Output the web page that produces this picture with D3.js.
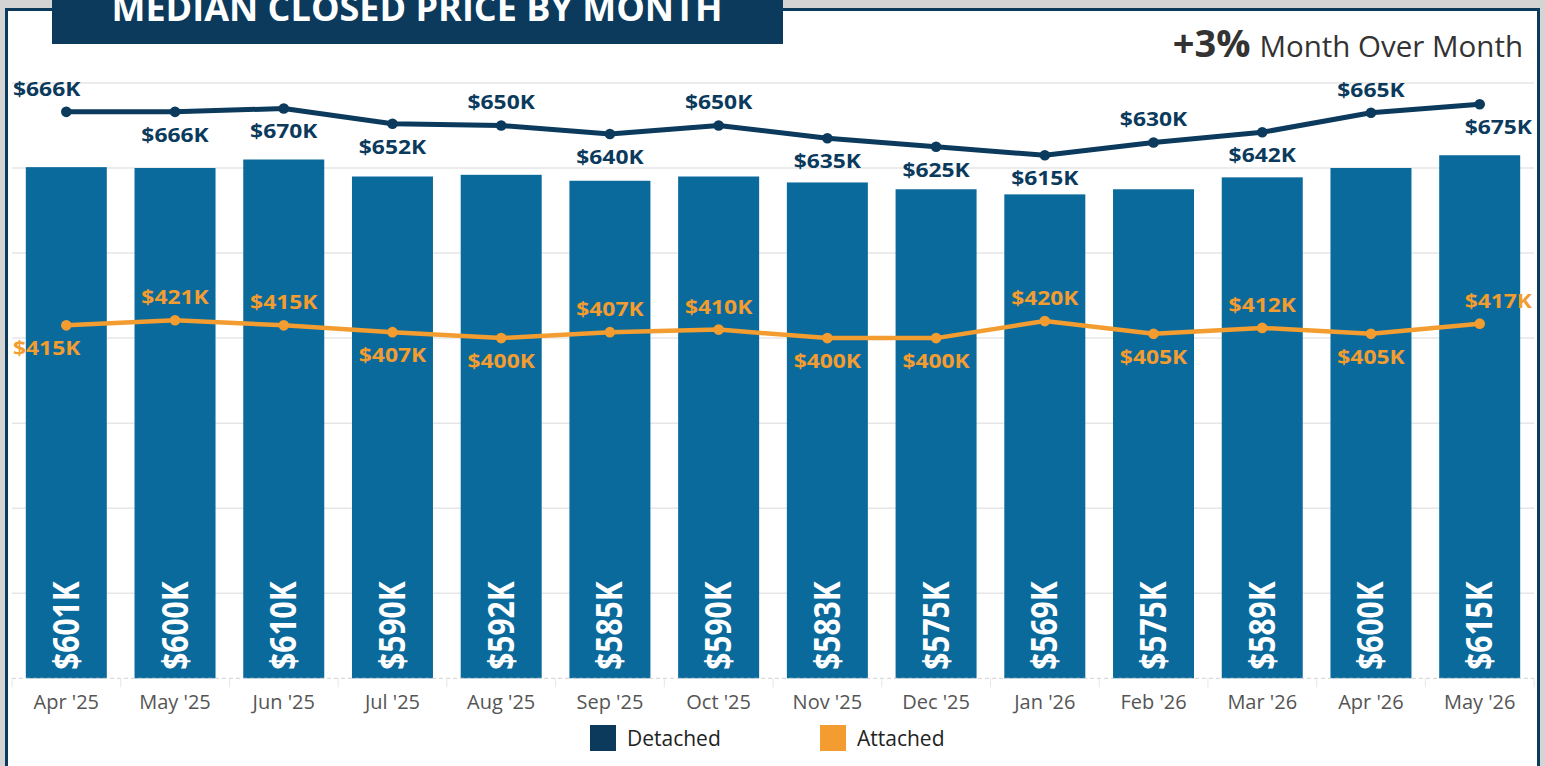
<!DOCTYPE html>
<html>
<head>
<meta charset="utf-8">
<script src="https://cdn.jsdelivr.net/npm/d3@7"></script>
<style>
    body { margin: 0; background: #d4d4d4; overflow: hidden; }
    svg { display: block; font-family: "Open Sans", "Noto Sans", sans-serif; }
</style>
</head>
<body>
<svg width="1545" height="766"></svg>
<script>
// ---> Data
const months = ["Apr '25", "May '25", "Jun '25", "Jul '25", "Aug '25", "Sep '25", "Oct '25",
    "Nov '25", "Dec '25", "Jan '26", "Feb '26", "Mar '26", "Apr '26", "May '26"];
const barValues = [601, 600, 610, 590, 592, 585, 590, 583, 575, 569, 575, 589, 600, 615];
const detached = [666, 666, 670, 652, 650, 640, 650, 635, 625, 615, 630, 642, 665, 675];
const attached = [415, 421, 415, 407, 400, 407, 410, 400, 400, 420, 405, 412, 405, 417];
// label above (1) or below (0) the point
const detachedPos = [1, 0, 0, 0, 1, 0, 1, 0, 0, 0, 1, 0, 1, 0];
const attachedPos = [0, 1, 1, 0, 0, 1, 1, 0, 0, 1, 0, 1, 0, 1];
const gridTicks = [0, 100, 200, 300, 400, 500, 600, 700];

const navy = '#0b3a5c';
const barColor = '#0b6a9c';
const orange = '#f39c2f';
const stretch = 1.17; // numbers in the labels look a bit wide

let svg = d3.select("svg");

// ---> Panel
svg.append("rect")
    .attr("x", 6.5).attr("y", 9.5)
    .attr("width", 1532).attr("height", 800)
    .attr("fill", "#fff")
    .attr("stroke", navy)
    .attr("stroke-width", 3);

svg.append("rect")
    .attr("x", 52).attr("y", -10)
    .attr("width", 731).attr("height", 54)
    .attr("fill", navy);

svg.append("text")
    .attr("x", 417).attr("y", 21)
    .attr("text-anchor", "middle")
    .attr("fill", "#fff")
    .attr("font-size", 36)
    .attr("font-weight", 700)
    .text("MEDIAN CLOSED PRICE BY MONTH");

let mom = svg.append("text")
    .attr("x", 1523).attr("y", 57)
    .attr("text-anchor", "end")
    .attr("fill", "#333");
mom.append("tspan").attr("font-size", 38).attr("font-weight", 700).text("+3%");
mom.append("tspan").attr("font-size", 29.5).attr("dx", 9).text("Month Over Month");

// ---> Scales
const x = d3.scaleBand().domain(months).range([12, 1534]).paddingInner(0.255).paddingOuter(0.127);
const y = d3.scaleLinear().domain([0, 600]).range([678.3, 168]);
const cx = (i) => x(months[i]) + x.bandwidth() / 2;

// gridlines
svg.append("g")
    .selectAll("line")
    .data(gridTicks.slice(1))
    .enter()
    .append("line")
    .attr("x1", 12).attr("x2", 1534)
    .attr("y1", d => y(d)).attr("y2", d => y(d))
    .attr("stroke", "#e6e6e6")
    .attr("stroke-width", 1.5);

// ---> Bars
svg.append("g")
    .selectAll("rect")
    .data(barValues)
    .enter()
    .append("rect")
    .attr("x", (d, i) => x(months[i]))
    .attr("y", d => y(d))
    .attr("width", x.bandwidth())
    .attr("height", d => y(0) - y(d))
    .attr("fill", barColor);

svg.append("g")
    .selectAll("text")
    .data(barValues)
    .enter()
    .append("text")
    .attr("transform", (d, i) => "translate(" + (cx(i) + 12.5) + "," + (y(0) - 8.5) + ") rotate(-90) scale(1," + stretch + ")")
    .attr("fill", "#fff")
    .attr("font-size", 30)
    .attr("font-weight", 700)
    .text(d => "$" + d + "K");

// x axis
let xAxis = svg.append("g").attr("transform", "translate(0," + y(0) + ")");
xAxis.append("line")
    .attr("x1", 12).attr("x2", 1534)
    .attr("stroke", "#d0d0d0")
    .attr("stroke-dasharray", "4,3");
xAxis.selectAll(".tick")
    .data(d3.range(months.length + 1))
    .enter()
    .append("line")
    .attr("x1", i => 12 + i * x.step()).attr("x2", i => 12 + i * x.step())
    .attr("y1", 0).attr("y2", 9)
    .attr("stroke", "#e6e6e6");
xAxis.selectAll("text")
    .data(months)
    .enter()
    .append("text")
    .attr("x", d => x(d) + x.bandwidth() / 2)
    .attr("y", 30.5)
    .attr("text-anchor", "middle")
    .attr("fill", "#555")
    .attr("font-size", 20)
    .text(d => d);

// ---> Lines
function drawSeries(values, positions, color, width) {
    const line = d3.line().x((d, i) => cx(i)).y(d => y(d));
    svg.append("path")
        .datum(values)
        .attr("d", line)
        .attr("fill", "none")
        .attr("stroke", color)
        .attr("stroke-width", width)
        .attr("stroke-linejoin", "round");
    svg.append("g")
        .selectAll("circle")
        .data(values)
        .enter()
        .append("circle")
        .attr("cx", (d, i) => cx(i))
        .attr("cy", d => y(d))
        .attr("r", 5.3)
        .attr("fill", color);
    // first and last labels are pushed inside the plot edges
    const last = values.length - 1;
    svg.append("g")
        .selectAll("text")
        .data(values)
        .enter()
        .append("text")
        .attr("transform", (d, i) => {
            let lx = i === 0 ? 13 : (i === last ? 1532 : cx(i));
            let ly = y(d) + (positions[i] ? -16 : 30);
            return "translate(" + lx + "," + ly + ") scale(" + stretch + ",1)";
        })
        .attr("text-anchor", (d, i) => i === 0 ? "start" : (i === last ? "end" : "middle"))
        .attr("fill", color)
        .attr("font-size", 19.5)
        .attr("font-weight", 700)
        .text(d => "$" + d + "K");
}

drawSeries(detached, detachedPos, navy, 5);
drawSeries(attached, attachedPos, orange, 4.5);

// ---> Legend
let legend = svg.append("g");
const legendItems = [{name: "Detached", color: navy, x: 590}, {name: "Attached", color: orange, x: 820}];
legend.selectAll("rect")
    .data(legendItems)
    .enter()
    .append("rect")
    .attr("x", d => d.x).attr("y", 725)
    .attr("width", 26).attr("height", 26)
    .attr("fill", d => d.color);
legend.selectAll("text")
    .data(legendItems)
    .enter()
    .append("text")
    .attr("x", d => d.x + 37).attr("y", 746)
    .attr("fill", "#222")
    .attr("font-size", 21)
    .text(d => d.name);
</script>
</body>
</html>
